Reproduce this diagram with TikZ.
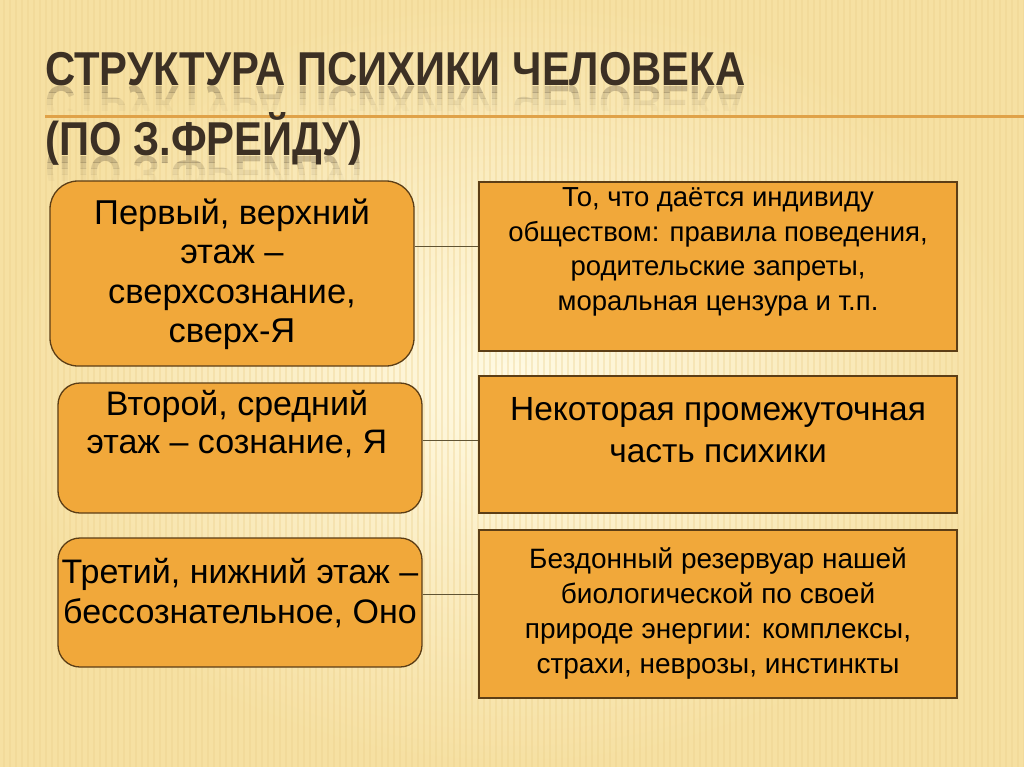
\documentclass[tikz,border=0pt]{standalone}
\usepackage{fontspec}
\setmainfont{Liberation Sans}
\newfontfamily\titlefont[FakeStretch=0.88]{Liberation Sans}
\usepackage{graphicx}
\usepackage{xcolor}
\usetikzlibrary{positioning,shapes}
\definecolor{bglight}{RGB}{255,250,228}
\definecolor{bgdark}{RGB}{246,224,162}
\definecolor{stripecol}{RGB}{236,208,140}
\definecolor{boxfill}{RGB}{241,168,58}
\definecolor{boxline}{RGB}{92,62,22}
\definecolor{linkcol}{RGB}{96,84,52}
\definecolor{titlecol}{RGB}{60,48,36}
\definecolor{rulecol}{RGB}{224,162,72}
\tikzstyle{leftbox} = [draw=boxline, fill=boxfill, line width=1.3pt, rounded corners=22pt, minimum width=364pt, inner sep=0pt]
\tikzstyle{rightbox} = [draw=boxline, fill=boxfill, line width=1.3pt, minimum width=478pt, inner sep=0pt]
\tikzstyle{link} = [line width=1pt, color=linkcol]
\tikzstyle{titletext} = [anchor=base west, inner sep=0pt, color=titlecol, font=\titlefont\bfseries\fontsize{47.5}{56}\selectfont]
\tikzstyle{boxtext} = [anchor=base, inner sep=0pt, color=black]

\begin{document}
\begin{tikzpicture}[x=1pt, y=-1pt]
\useasboundingbox (0,0) rectangle (1024,767);
% Background
\shade[inner color=bglight, outer color=bgdark] (0,0) rectangle (1024,767);
\foreach \x in {4,10,...,1024}
  \draw[stripecol, opacity=0.35, line width=1.5pt] (\x,0) -- (\x,767);

% Title
\draw[rulecol, line width=3pt] (45,117) -- (1024,117);
\node[titletext] (title1) at (45,86) {СТРУКТУРА ПСИХИКИ ЧЕЛОВЕКА};
\node[titletext] (title2) at (45,156) {(ПО З.ФРЕЙДУ)};
% reflection, fading in bands
\foreach \d/\o in {0/0.24,6/0.15,12/0.08,18/0.03} {
  \begin{scope}
  \clip (0,87+\d) rectangle (1024,93+\d);
  \node[titletext, opacity=\o] at (45,87) {\scalebox{1}[-1]{СТРУКТУРА ПСИХИКИ ЧЕЛОВЕКА}};
  \end{scope}
  \begin{scope}
  \clip (0,157+\d) rectangle (1024,163+\d);
  \node[titletext, opacity=\o] at (45,157) {\scalebox{1}[-1]{(ПО З.ФРЕЙДУ)}};
  \end{scope}
}

% Floors
\node[leftbox, minimum height=185pt, rounded corners=28pt] (L1) at (232,273.5) {};
\node[rightbox, minimum height=169pt] (R1) at (718,266.5) {};
\node[leftbox, minimum height=130pt] (L2) at (240,448) {};
\node[rightbox, minimum height=137pt] (R2) at (718,444.5) {};
\node[leftbox, minimum height=129pt] (L3) at (240,602.5) {};
\node[rightbox, minimum height=168pt] (R3) at (718,614) {};

% Texts
\node[boxtext, font=\fontsize{34.5}{39}\selectfont] (tL1) at (232,225)
  {\begin{tabular}[t]{@{}c@{}}Первый, верхний\\этаж –\\сверхсознание,\\сверх-Я\end{tabular}};
\node[boxtext, font=\fontsize{34}{38}\selectfont] (tL2) at (237,415)
  {\begin{tabular}[t]{@{}c@{}}Второй, средний\\этаж – сознание, Я\end{tabular}};
\node[boxtext, font=\fontsize{34}{40}\selectfont] (tL3) at (240,583)
  {\begin{tabular}[t]{@{}c@{}}Третий, нижний этаж –\\бессознательное, Оно\end{tabular}};
\node[boxtext, font=\fontsize{27.5}{34.5}\selectfont] (tR1) at (718,207)
  {\begin{tabular}[t]{@{}c@{}}То, что даётся индивиду\\обществом: правила поведения,\\родительские запреты,\\моральная цензура и т.п.\end{tabular}};
\node[boxtext, font=\fontsize{33.5}{42}\selectfont] (tR2) at (718,420)
  {\begin{tabular}[t]{@{}c@{}}Некоторая промежуточная\\часть психики\end{tabular}};
\node[boxtext, font=\fontsize{28}{35}\selectfont] (tR3) at (718,568)
  {\begin{tabular}[t]{@{}c@{}}Бездонный резервуар нашей\\биологической по своей\\природе энергии: комплексы,\\страхи, неврозы, инстинкты\end{tabular}};

% Links
\coordinate (c1) at ([yshift=27.5pt]L1.east);
\coordinate (c2) at ([yshift=8pt]L2.east);
\coordinate (c3) at ([yshift=8.5pt]L3.east);
\draw[link] (c1) -- (c1 -| R1.west);
\draw[link] (c2) -- (c2 -| R2.west);
\draw[link] (c3) -- (c3 -| R3.west);
\end{tikzpicture}
\end{document}
